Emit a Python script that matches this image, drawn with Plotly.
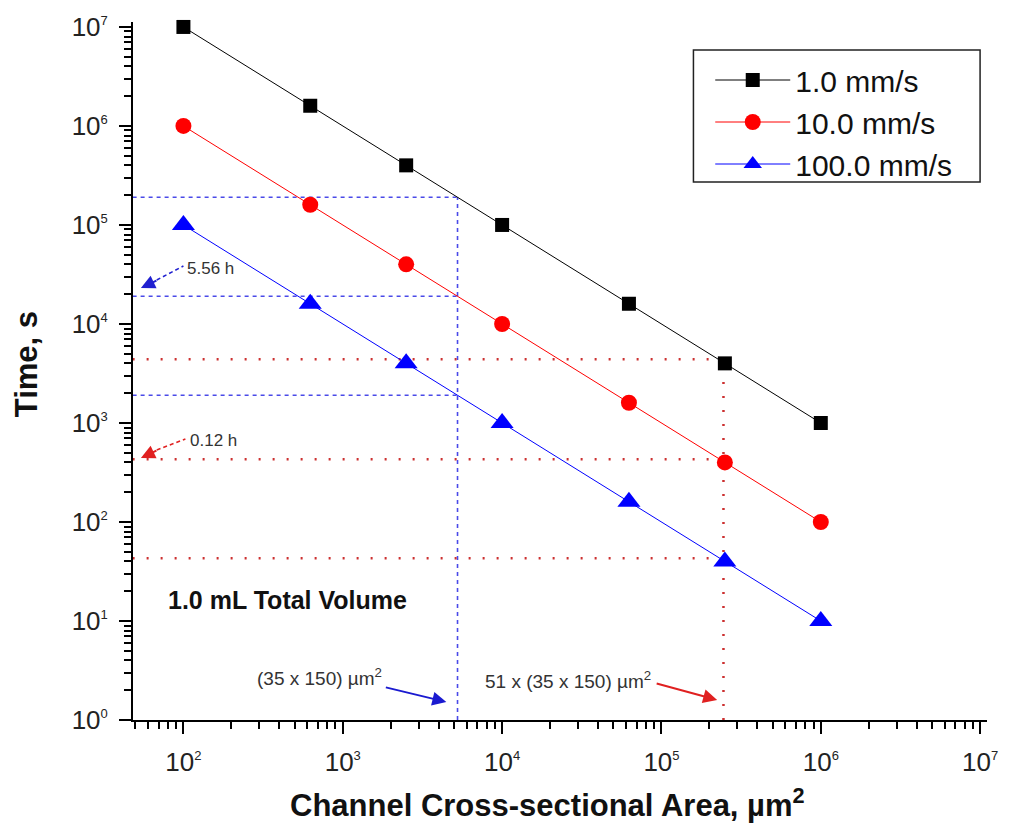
import plotly.graph_objects as go

# ---------------- data ----------------
area = [100, 625, 2500, 10000, 62500, 250000, 1000000]          # µm²
t_1mm = [1.0e7, 1.6e6, 4.0e5, 1.0e5, 1.6e4, 4.0e3, 1.0e3]        # s, 1.0 mm/s
t_10mm = [1.0e6, 1.6e5, 4.0e4, 1.0e4, 1.6e3, 4.0e2, 1.0e2]       # s, 10.0 mm/s
t_100mm = [1.0e5, 1.6e4, 4.0e3, 1.0e3, 1.6e2, 4.0e1, 1.0e1]      # s, 100.0 mm/s
series_names = ["1.0 mm/s", "10.0 mm/s", "100.0 mm/s"]

# guide lines
blue_area = 5250                      # (35 x 150) µm²
blue_times = [190476, 19048, 1905]
red_area = 245000                     # 51 x (35 x 150) µm²
red_times = [4400, 430, 43]
x_axis_min = 48
y_axis_min = 1

x_tick_vals = [1e2, 1e3, 1e4, 1e5, 1e6, 1e7]
x_tick_exp = ["2", "3", "4", "5", "6", "7"]
y_tick_vals = [1e0, 1e1, 1e2, 1e3, 1e4, 1e5, 1e6, 1e7]
y_tick_exp = ["0", "1", "2", "3", "4", "5", "6", "7"]

# ---------------- layout geometry ----------------
W, H = 1010, 827
L, R, T, B = 133, 13, 22, 107
PW, PH = W - L - R, H - T - B
FONT = "Liberation Sans, Arial"


def px(x):
    return (x - L) / PW


def py(y):
    return (H - B - y) / PH


def tick_text(exps):
    return ["10<sup><span style='font-size:13px'>%s</span></sup>" % e for e in exps]


x_minor = [k * 10 ** n for n in range(1, 7) for k in range(2, 10) if k * 10 ** n >= x_axis_min]
y_minor = [k * 10 ** n for n in range(0, 7) for k in range(2, 10)]

fig = go.Figure()

# blue dashed guides
blue_style = dict(color="#4a4ae8", width=1.6, dash="4px,4px")
fig.add_trace(go.Scatter(x=[blue_area, blue_area], y=[y_axis_min, blue_times[0]], mode="lines",
                         line=blue_style, showlegend=False, hoverinfo="skip"))
for t in blue_times:
    fig.add_trace(go.Scatter(x=[x_axis_min, blue_area], y=[t, t], mode="lines",
                             line=blue_style, showlegend=False, hoverinfo="skip"))

# red dotted guides
red_style = dict(color="#cc3030", width=2.5, dash="2px,12px")
fig.add_trace(go.Scatter(x=[red_area, red_area], y=[y_axis_min, red_times[0]], mode="lines",
                         line=red_style, showlegend=False, hoverinfo="skip"))
for t in red_times:
    fig.add_trace(go.Scatter(x=[x_axis_min, red_area], y=[t, t], mode="lines",
                             line=red_style, showlegend=False, hoverinfo="skip"))

# data series
fig.add_trace(go.Scatter(x=area, y=t_1mm, name=series_names[0], mode="lines+markers",
                         line=dict(color="black", width=1),
                         marker=dict(symbol="square", size=14, color="black"),
                         cliponaxis=False))
fig.add_trace(go.Scatter(x=area, y=t_10mm, name=series_names[1], mode="lines+markers",
                         line=dict(color="#ff0000", width=1),
                         marker=dict(symbol="circle", size=16, color="#ff0000"),
                         cliponaxis=False))
fig.add_trace(go.Scatter(x=area, y=t_100mm, name=series_names[2], mode="lines+markers",
                         line=dict(color="#0000ff", width=1),
                         marker=dict(symbol="triangle-up", size=20, color="#0000ff"),
                         cliponaxis=False))

axis_common = dict(type="log", showgrid=False, zeroline=False, showline=True,
                   linecolor="black", linewidth=2, ticks="outside", ticklen=12,
                   tickwidth=2, tickcolor="black",
                   tickfont=dict(family=FONT, size=26, color="#222"),
                   ticklabelstandoff=6)

fig.update_xaxes(range=[1.6836, 7.043], tickmode="array", tickvals=x_tick_vals,
                 ticktext=tick_text(x_tick_exp),
                 minor=dict(tickmode="array", tickvals=x_minor, ticks="outside", ticklen=7,
                            tickwidth=1.5, tickcolor="black", showgrid=False),
                 **axis_common)
fig.update_yaxes(range=[0, 7.05], tickmode="array", tickvals=y_tick_vals,
                 ticktext=tick_text(y_tick_exp),
                 minor=dict(tickmode="array", tickvals=y_minor, ticks="outside", ticklen=7,
                            tickwidth=1.5, tickcolor="black", showgrid=False),
                 **axis_common)

ann_font = dict(family=FONT, size=17, color="#333")
annotations = [
    # axis titles
    dict(x=px(552), y=py(803), text="<b>Channel Cross-sectional Area, µm<sup>2</sup></b>",
         xanchor="center", font=dict(family=FONT, size=31, color="#111")),
    dict(x=px(25), y=py(364), text="<b>Time, s</b>", textangle=-90, xanchor="center",
         font=dict(family=FONT, size=31, color="#111")),
    # texts
    dict(x=px(166), y=py(600), text="<b>1.0 mL Total Volume</b>", xanchor="left",
         font=dict(family=FONT, size=25, color="#111")),
    dict(x=px(186), y=py(268), text="5.56 h", xanchor="left", font=ann_font),
    dict(x=px(189), y=py(440), text="0.12 h", xanchor="left", font=ann_font),
    dict(x=px(256), y=py(677), text="(35 x 150) µm<sup>2</sup>", xanchor="left",
         font=dict(family=FONT, size=19, color="#333")),
    dict(x=px(487), y=py(680), text="51 x (35 x 150) µm<sup>2</sup>", xanchor="left",
         font=dict(family=FONT, size=19, color="#333")),
    # arrow heads
    dict(x=px(141), y=py(288), text="", showarrow=True, ax=17, ay=-8, arrowhead=2,
         arrowsize=1.4, arrowwidth=2, arrowcolor="#2020d0"),
    dict(x=px(141), y=py(458), text="", showarrow=True, ax=17, ay=-8, arrowhead=2,
         arrowsize=1.4, arrowwidth=2, arrowcolor="#e02020"),
    dict(x=px(450), y=py(702), text="", showarrow=True, ax=-62, ay=-15, arrowhead=2,
         arrowsize=1.4, arrowwidth=2, arrowcolor="#1a1ad0"),
    dict(x=px(724), y=py(700), text="", showarrow=True, ax=-62, ay=-17, arrowhead=2,
         arrowsize=1.4, arrowwidth=2, arrowcolor="#e02020"),
]
for a in annotations:
    a.setdefault("xref", "paper")
    a.setdefault("yref", "paper")
    a.setdefault("yanchor", "middle")
    a.setdefault("showarrow", False)
fig.update_layout(annotations=annotations)

# dashed arrow stems
fig.add_shape(type="line", xref="paper", yref="paper", x0=px(157), y0=py(280), x1=px(184), y1=py(266),
              line=dict(color="#2020d0", width=1.5, dash="4px,3px"))
fig.add_shape(type="line", xref="paper", yref="paper", x0=px(157), y0=py(450), x1=px(186), y1=py(439),
              line=dict(color="#e02020", width=1.5, dash="4px,3px"))

# legend frame
fig.add_shape(type="rect", xref="paper", yref="paper", x0=px(700), y0=py(50), x1=px(990), y1=py(182),
              line=dict(color="#222", width=1.5), fillcolor="rgba(0,0,0,0)", layer="above")

fig.update_layout(
    width=W, height=H,
    margin=dict(l=L, r=R, t=T, b=B, pad=0),
    paper_bgcolor="white", plot_bgcolor="white",
    font=dict(family=FONT, color="#111"),
    showlegend=True,
    legend=dict(x=px(717), y=py(54), xanchor="left", yanchor="top",
                borderwidth=0, bgcolor="rgba(0,0,0,0)",
                font=dict(family=FONT, size=30, color="#111"),
                itemwidth=75, tracegroupgap=0),
)

fig.write_html("out.html")
